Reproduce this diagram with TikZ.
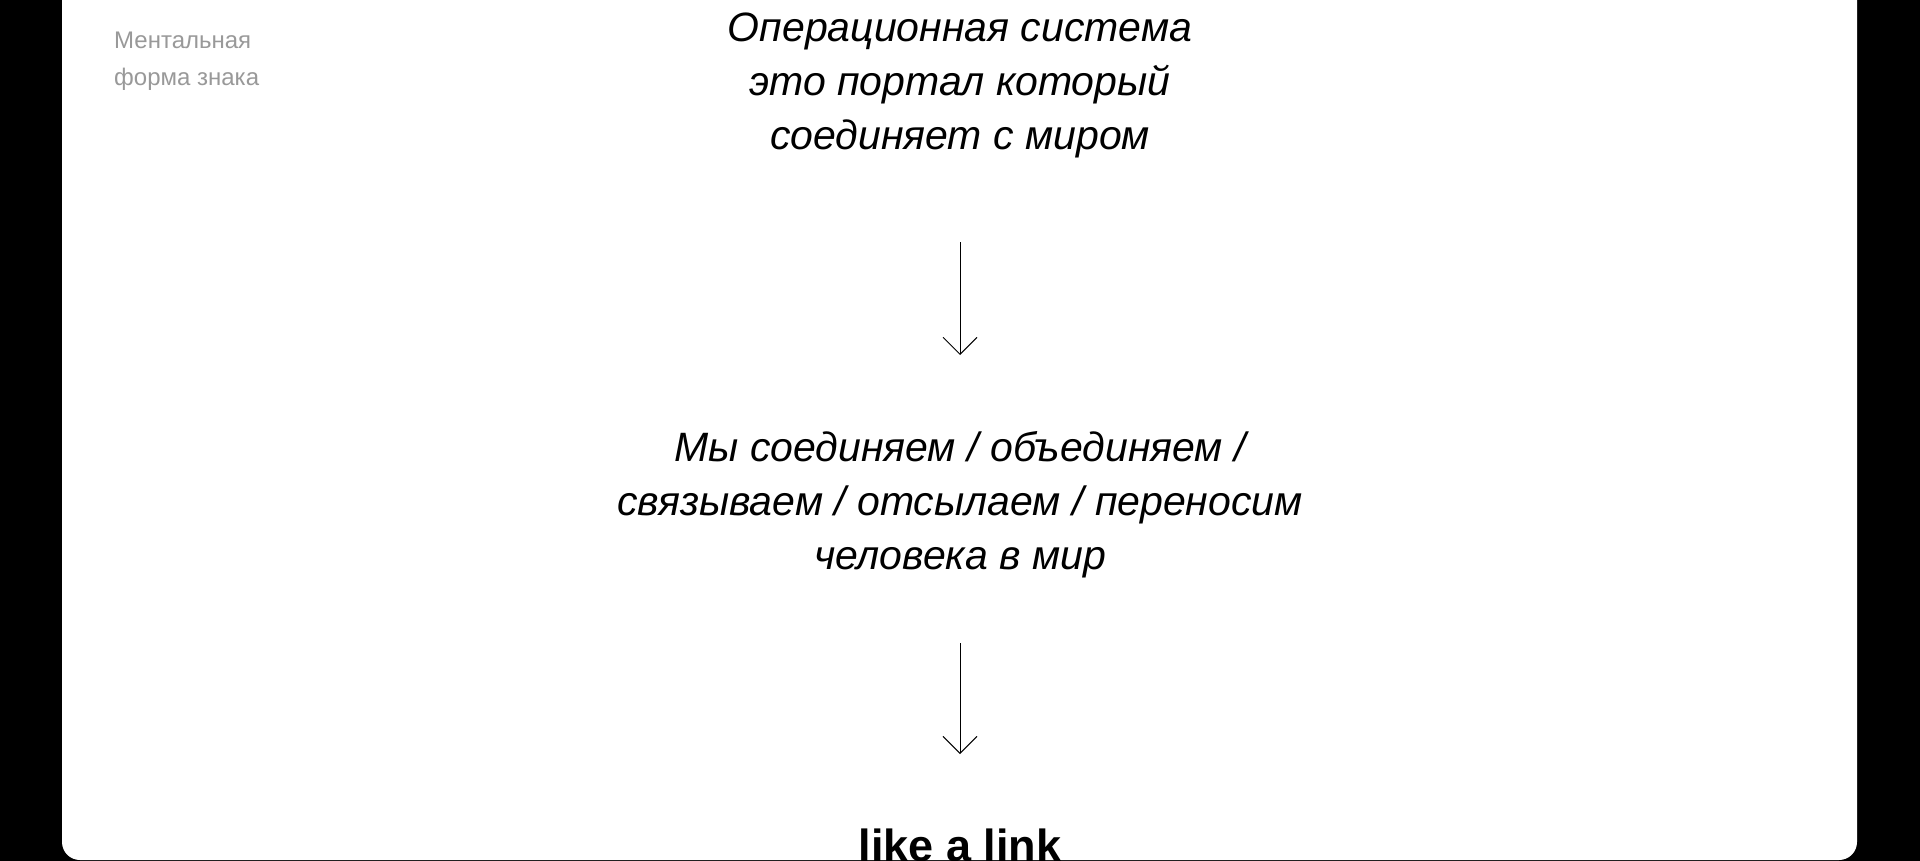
\documentclass[tikz,border=0pt]{standalone}
\usepackage{fontspec}
\setmainfont{Liberation Sans}
\usetikzlibrary{arrows.meta}
\begin{document}
\begin{tikzpicture}[x=1pt,y=-1pt,
  big/.style={font=\fontsize{41}{54}\selectfont\itshape, align=center, inner sep=0},
  note/.style={font=\fontsize{24}{37}\selectfont, text=black!40, align=left, inner sep=0, anchor=north west},
  arr/.style={line width=0.9pt, -{Straight Barb[length=17pt,width=34pt,line width=0.9pt]}}]
\useasboundingbox (0,0) rectangle (1920,860);
\fill[black] (0,-1) rectangle (1920,861);
\fill[white, rounded corners=18pt] (62,-30) rectangle (1857,860);
\node[note] (n) at (114,32) {Ментальная\\форма знака};
\node[big] (t1) at (960,85) {Операционная система\\это портал который\\соединяет с миром};
\coordinate (a1s) at (960,242);
\coordinate (a1e) at (960,355);
\draw[arr] (a1s) -- (a1e);
\node[big] (t2) at (960,505) {Мы соединяем / объединяем /\\связываем / отсылаем / переносим\\человека в мир};
\coordinate (a2s) at (960,643);
\coordinate (a2e) at (960,754);
\draw[arr] (a2s) -- (a2e);
\node[font=\fontsize{45}{50}\selectfont\bfseries, inner sep=0] (t3) at (960,845) {like a link};
\end{tikzpicture}
\end{document}
